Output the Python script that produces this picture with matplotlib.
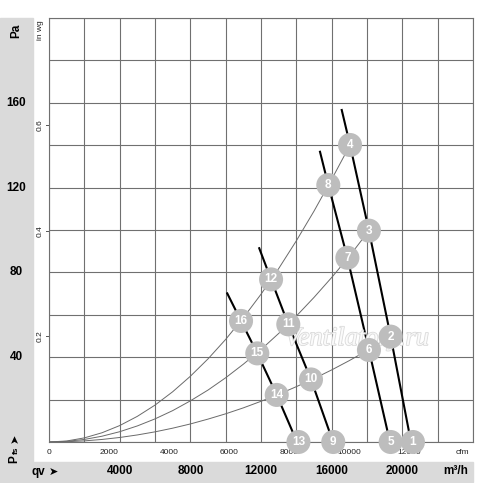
import matplotlib
matplotlib.use("Agg")
import matplotlib.pyplot as plt
import matplotlib.patheffects as pe
from matplotlib.patches import Rectangle

# ---------------- data ----------------
# numbered operating points: label -> (flow m3/h, pressure Pa)
point_labels = ["1", "2", "3", "4", "5", "6", "7", "8",
                "9", "10", "11", "12", "13", "14", "15", "16"]
point_flow = [20600, 19340, 18110, 17040, 19340, 18110, 16890, 15810,
              16090, 14830, 13545, 12570, 14120, 12890, 11790, 10870]
point_pa = [0.0, 49.7, 99.7, 140.1, 0.0, 43.4, 86.9, 121.2,
            0.0, 29.5, 55.5, 76.7, 0.0, 22.2, 41.8, 57.1]

# fan characteristic lines (thick black), flow m3/h and pressure Pa
fan1_flow = [16570, 17040, 18110, 19340, 20490]
fan1_pa = [156.6, 140.1, 99.7, 49.7, 0.0]
fan2_flow = [15340, 15810, 16890, 18110, 19300]
fan2_pa = [136.9, 121.2, 86.9, 43.4, 0.0]
fan3_flow = [11900, 12570, 13545, 14830, 16080]
fan3_pa = [91.4, 76.7, 55.5, 29.5, 0.0]
fan4_flow = [10090, 10870, 11790, 12890, 14040]
fan4_pa = [70.1, 57.1, 41.8, 22.2, 0.0]

# system curves (thin grey)
sysA_flow = [0, 1000, 2000, 3000, 4000, 5000, 6000, 7000, 8000, 9000,
             10000, 11000, 12000, 13000, 14000, 15000, 16000, 17040]
sysA_pa = [0, 0.48, 1.94, 4.36, 7.74, 12.1, 17.4, 23.7, 31.0, 39.2,
           48.4, 58.6, 69.7, 81.8, 94.9, 108.9, 123.9, 140.1]
sysB_flow = [0, 1000, 2000, 3000, 4000, 5000, 6000, 7000, 8000, 9000,
             10000, 11000, 12000, 13000, 14000, 15000, 16000, 17000, 18110]
sysB_pa = [0, 0.30, 1.21, 2.73, 4.85, 7.58, 10.9, 14.8, 19.4, 24.5,
           30.3, 36.7, 43.6, 51.2, 59.4, 68.2, 77.6, 87.6, 99.7]
sysC_flow = [0, 1000, 2000, 3000, 4000, 5000, 6000, 7000, 8000, 9000,
             10000, 11000, 12000, 13000, 14000, 15000, 16000, 17000, 18000, 19340]
sysC_pa = [0, 0.13, 0.53, 1.20, 2.13, 3.33, 4.79, 6.52, 8.51, 10.8,
           13.3, 16.1, 19.2, 22.5, 26.1, 29.9, 34.0, 38.4, 43.1, 49.7]

pa_ticks = [40, 80, 120, 160]
inwg_ticks = [0.2, 0.4, 0.6]
m3h_ticks = [4000, 8000, 12000, 16000, 20000]
cfm_ticks = [0, 2000, 4000, 6000, 8000, 10000, 12000]

PA_PER_INWG = 249.09
M3H_PER_CFM = 1.699

# ---------------- figure ----------------
W, H = 500, 483
fig = plt.figure(figsize=(W / 100, H / 100), dpi=100)
plt.rcParams['font.family'] = ['Liberation Sans', 'DejaVu Sans']

def fx(px):
    return px / W

def fy(py):
    return 1 - py / H

# grey bands
fig.patches.append(Rectangle((0, 0), fx(33), fy(18), transform=fig.transFigure,
                             color='#dadada', zorder=0))
fig.patches.append(Rectangle((0, fy(482)), fx(473), fy(462) - fy(482),
                             transform=fig.transFigure, color='#dadada', zorder=0))

ax = fig.add_axes([fx(49), fy(442), fx(473) - fx(49), fy(18) - fy(442)])
ax.set_xlim(0, 24000)
ax.set_ylim(0, 200)
ax.set_xticks(range(0, 24001, 2000))
ax.set_yticks(range(0, 201, 20))
ax.grid(True, color='#707070', lw=0.8)
ax.tick_params(length=0, labelbottom=False, labelleft=False)
for s in ax.spines.values():
    s.set_color('#707070')
    s.set_linewidth(0.8)
ax.set_axisbelow(True)

# system curves
for xs, ys in [(sysA_flow, sysA_pa), (sysB_flow, sysB_pa), (sysC_flow, sysC_pa)]:
    ax.plot(xs, ys, color='#6a6a6a', lw=0.7, zorder=2)

# fan lines
for xs, ys in [(fan1_flow, fan1_pa), (fan2_flow, fan2_pa),
               (fan3_flow, fan3_pa), (fan4_flow, fan4_pa)]:
    ax.plot(xs, ys, color='black', lw=1.5, zorder=3, clip_on=False)

# watermark
ax.text((357 - 49) / 424 * 24000, (442 - 339) / 424 * 200,
        "Ventilatory.ru", family='Liberation Serif', style='italic',
        fontsize=19, color='white', alpha=0.8, ha='center', va='center',
        zorder=3.5, path_effects=[pe.withStroke(linewidth=1.1, foreground='#cfcfcf')])

# numbered circles
ax.scatter(point_flow, point_pa, s=300, color='#bdbdbd', zorder=4,
           edgecolors='none', clip_on=False)
for lab, x, y in zip(point_labels, point_flow, point_pa):
    ax.text(x, y, lab, color='white', fontsize=8.5, fontweight='bold',
            ha='center', va='center', zorder=5)

# Pa labels (left band)
for v in pa_ticks:
    fig.text(fx(16), fy(442 - v / 200 * 424), str(v), fontsize=8.5,
             fontweight='bold', ha='center', va='center')
fig.text(fx(16), fy(31), "Pa", fontsize=8.5, fontweight='bold',
         rotation=90, ha='center', va='center')

# in wg labels
for v in inwg_ticks:
    yv = v * PA_PER_INWG
    ax.text(-0.022, yv / 200, f"{v:.1f}", transform=ax.transAxes,
            fontsize=6, rotation=90, ha='center', va='center', color='#222')
    ax.plot([-0.006, 0], [yv / 200, yv / 200], transform=ax.transAxes,
            color='#555', lw=0.7, clip_on=False)
fig.text(fx(40), fy(20), "in wg", fontsize=6, rotation=90,
         ha='center', va='top', color='#222')

# cfm labels
for v in cfm_ticks:
    ax.text(v * M3H_PER_CFM, -0.025, str(v), transform=ax.get_xaxis_transform(),
            fontsize=6, ha='center', va='center', color='#222')
fig.text(fx(462), fy(452), "cfm", fontsize=6, ha='center', va='center',
         color='#222')

# m3/h labels (bottom band)
for v in m3h_ticks:
    fig.text(fx(49 + v / 24000 * 424), fy(471.5), str(v), fontsize=8.5,
             fontweight='bold', ha='center', va='center')
fig.text(fx(456), fy(471.5), "m³/h", fontsize=8.5, fontweight='bold',
         ha='center', va='center')

# axis symbols
fig.text(fx(31), fy(471.5), "qv", fontsize=8.5, fontweight='bold',
         ha='left', va='center')
fig.text(fx(49), fy(471.5), "➤", fontsize=8, ha='left', va='center',
         family=['DejaVu Sans'])
fig.text(fx(14), fy(459), "P", fontsize=8.5, fontweight='bold',
         rotation=90, ha='center', va='center')
fig.text(fx(16.5), fy(450.5), "fs", fontsize=6, fontweight='bold',
         rotation=90, ha='center', va='center')
fig.text(fx(15), fy(438), "➤", fontsize=8, rotation=90, ha='center',
         va='center', family=['DejaVu Sans'])

fig.savefig("out.png", dpi=100)
